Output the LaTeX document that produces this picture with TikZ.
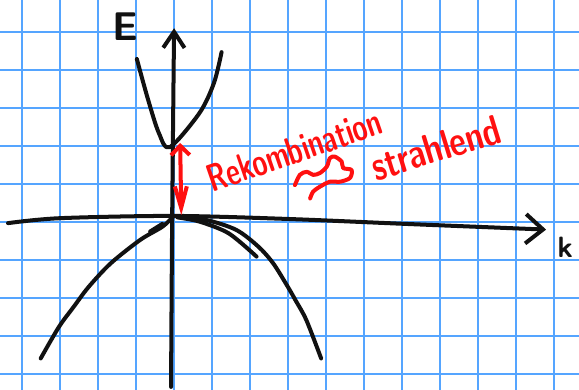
\documentclass[tikz,border=0pt]{standalone}
\usepackage{tikz}
\usetikzlibrary{arrows.meta}
\definecolor{ink}{HTML}{111111}
\definecolor{gridc}{HTML}{55A5FF}
\definecolor{pen}{HTML}{FF1010}
\tikzset{
  gridline/.style={gridc,line width=1.3pt},
  axis/.style={ink,line width=3pt,line cap=round,line join=round},
  band/.style={ink,line width=3pt,line cap=round,line join=round},
  redpen/.style={pen,line width=3pt,line cap=round,line join=round},
  axlbl/.style={ink,font=\sffamily\bfseries\fontsize{30}{30}\selectfont,inner sep=0pt},
  redlbl/.style={pen,font=\sffamily\bfseries\fontsize{20}{20}\selectfont,inner sep=0pt},
}

\begin{document}
\begin{tikzpicture}[x=1cm,y=1cm]
  \useasboundingbox (-4.571,-4.421) rectangle (10.666,5.842);
  \fill[white] (-4.571,-4.421) rectangle (10.666,5.842);
  % ---------- squared paper ----------
  \foreach \i in {-4,...,10} \draw[gridline] (\i,-4.421) -- (\i,5.842);
  \foreach \j in {-4,...,5} \draw[gridline] (-4.571,\j) -- (10.666,\j);
  % ---------- axes ----------
  \draw[axis,-{Straight Barb[length=13pt,width=22pt]}] plot[smooth] coordinates
    {(-4.36,-0.03) (-3,0.1) (0,0.16) (3,0.08) (6.1,-0.05) (9.8,-0.2)};
  \draw[axis,-{Straight Barb[length=12pt,width=16pt]}] plot[smooth] coordinates
    {(-0.07,-4.34) (-0.04,0.16) (0.01,5.1)};
  \node[axlbl] (elbl) at (-1.28,5.13) {E};
  \node[axlbl,font=\sffamily\bfseries\fontsize{22}{22}\selectfont] (klbl) at (10.3,-0.66) {k};
  % ---------- conduction band ----------
  \draw[band] plot[smooth] coordinates
    {(-0.97,4.29) (-0.68,3.24) (-0.39,2.34) (-0.1,1.97) (0.68,2.87) (1.06,3.66) (1.26,4.47)};
  % ---------- valence bands ----------
  \draw[band] plot[smooth] coordinates
    {(-3.5,-3.59) (-3.02,-2.76) (-2.63,-2.23) (-2.24,-1.71) (-1.66,-1.09) (-0.88,-0.47)
     (-0.29,-0.12) (0,0.16)};
  \draw[band] plot[smooth] coordinates
    {(0,0.16) (0.87,0.05) (1.65,-0.21) (2.23,-0.65) (2.62,-1.09) (3.0,-1.7) (3.2,-2.05)
     (3.49,-2.58) (3.88,-3.59)};
  \draw[band] plot[smooth] coordinates
    {(0.1,0.12) (0.68,0.01) (1.45,-0.3) (2.18,-0.91)};
  \draw[band] (-0.62,-0.25) -- (-0.3,-0.05);
  % ---------- recombination ----------
  \coordinate (cbmin) at (0.17,2.08);
  \coordinate (vbmax) at (0.2,0.18);
  \draw[redpen,{Straight Barb[length=7pt,width=14pt]}-{Straight Barb[length=16pt,width=9pt]}]
    (cbmin) -- (vbmax);
  \node[redlbl,rotate=19,yscale=1.45,transform shape] (rekomb) at (3.18,1.89) {Rekombination};
  \draw[redpen] plot[smooth,tension=0.5] coordinates
    {(3.19,0.97) (3.32,1.24) (3.5,1.32) (3.67,1.24) (3.85,1.29) (4.03,1.46) (4.11,1.68)
     (4.24,1.72) (4.42,1.59) (4.46,1.42) (4.68,1.37) (4.64,1.16) (4.38,1.06) (4.11,1.06)
     (3.85,0.93) (3.67,0.8) (3.59,0.62)};
  \node[redlbl,font=\sffamily\bfseries\fontsize{24}{24}\selectfont,rotate=17,yscale=1.3,transform shape]
    (strahl) at (6.9,1.95) {strahlend};
\end{tikzpicture}
\end{document}
